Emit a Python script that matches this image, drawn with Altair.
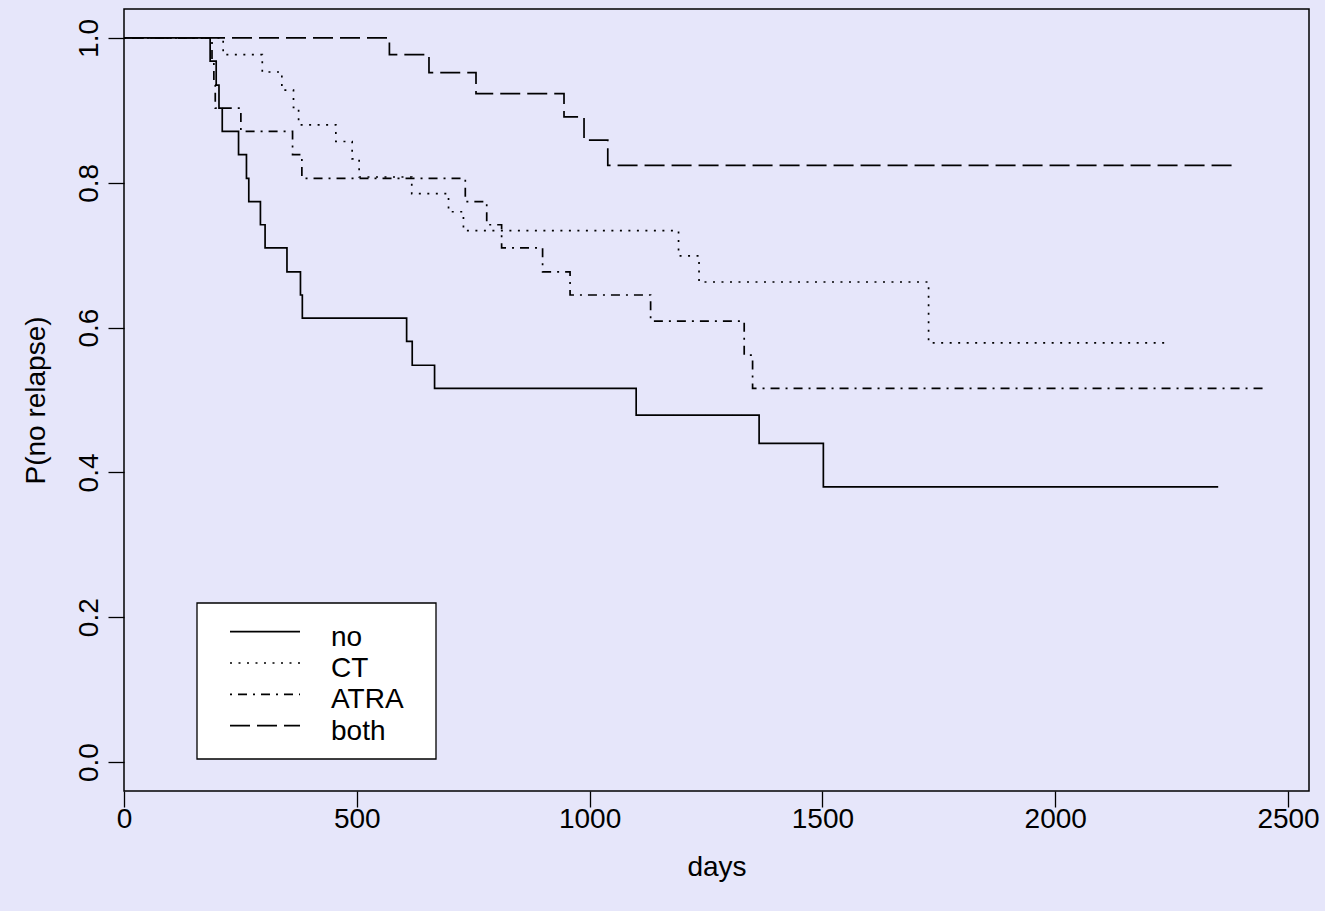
import altair as alt
import pandas as pd

# Kaplan-Meier estimates of relapse-free probability by treatment group
groups = ["no", "CT", "ATRA", "both"]

no_days = [185, 198, 204, 211, 246, 263, 268, 293, 303, 350, 379, 383, 607, 619, 667, 1100, 1364, 1502]
no_surv = [0.968, 0.935, 0.903, 0.871, 0.839, 0.806, 0.774, 0.742, 0.710, 0.677, 0.645, 0.613,
           0.581, 0.548, 0.516, 0.479, 0.440, 0.380]
no_last = 2350

ct_days = [213, 297, 339, 364, 375, 455, 490, 505, 618, 697, 729, 1191, 1235, 1728]
ct_surv = [0.977, 0.953, 0.928, 0.904, 0.880, 0.857, 0.833, 0.808, 0.785, 0.760, 0.734, 0.699,
           0.663, 0.579]
ct_last = 2245

atra_days = [189, 193, 196, 251, 362, 382, 733, 779, 811, 899, 958, 1131, 1332, 1350]
atra_surv = [0.968, 0.935, 0.903, 0.871, 0.839, 0.806, 0.774, 0.742, 0.710, 0.677, 0.645, 0.609,
             0.562, 0.516]
atra_last = 2451

both_days = [570, 655, 756, 945, 988, 1039]
both_surv = [0.977, 0.952, 0.923, 0.891, 0.859, 0.824]
both_last = 2382

x_ticks = [0, 500, 1000, 1500, 2000, 2500]
y_ticks = [0.0, 0.2, 0.4, 0.6, 0.8, 1.0]

# line styles: solid, dotted, dot-dash, long dash
dashes = [[1, 0], [2, 6.5], [2, 6, 9, 6], [20, 7]]

series = [
    ("no", no_days, no_surv, no_last),
    ("CT", ct_days, ct_surv, ct_last),
    ("ATRA", atra_days, atra_surv, atra_last),
    ("both", both_days, both_surv, both_last),
]

rows = []
for order, (g, days, surv, last) in enumerate(series):
    rows.append({"group": g, "order": order, "days": 0, "p": 1.0})
    for d, s in zip(days, surv):
        rows.append({"group": g, "order": order, "days": d, "p": s})
    rows.append({"group": g, "order": order, "days": last, "p": surv[-1]})
curves = pd.DataFrame(rows)

FONT = "Liberation Sans"
BG = "#E6E6FA"
LW = 1.7

x_enc = alt.X(
    "days:Q",
    scale=alt.Scale(domain=[0, 2545], nice=False, zero=False),
    axis=alt.Axis(
        values=x_ticks, format="d", title="days",
        labelBaseline="alphabetic", labelPadding=20,
        titleBaseline="alphabetic", titleY=84,
    ),
)
y_enc = alt.Y(
    "p:Q",
    scale=alt.Scale(domain=[-0.04, 1.04], nice=False, zero=False),
    axis=alt.Axis(
        values=y_ticks, format=".1f", title="P(no relapse)",
        labelAngle=270, labelAlign="center", labelBaseline="alphabetic", labelPadding=11,
        titleAngle=270, titleAlign="center", titleBaseline="alphabetic",
        titleX=-80, titleY=391,
    ),
)

lines = alt.Chart(curves).mark_line(
    interpolate="step-after", color="black", strokeWidth=LW
).encode(
    x=x_enc,
    y=y_enc,
    detail="group:N",
    order="days:Q",
    strokeDash=alt.StrokeDash(
        "group:N", scale=alt.Scale(domain=groups, range=dashes), legend=None
    ),
)

# legend box drawn inside the plot, bottom-left
box = alt.Chart(pd.DataFrame({"k": [0]})).mark_rect(
    fill="white", stroke="black", strokeWidth=1.3
).encode(
    x=alt.value(73), x2=alt.value(312), y=alt.value(594), y2=alt.value(750)
)

legend_layers = [box]
row0, step = 622.7, 31.3
for i, g in enumerate(groups):
    ry = row0 + i * step
    leg_df = pd.DataFrame({"label": [g]})
    legend_layers.append(
        alt.Chart(leg_df).mark_rule(
            color="black", strokeWidth=LW, strokeDash=dashes[i]
        ).encode(x=alt.value(106), x2=alt.value(176), y=alt.value(ry))
    )
    legend_layers.append(
        alt.Chart(leg_df).mark_text(
            align="left", baseline="alphabetic", font=FONT, fontSize=28, color="black"
        ).encode(text="label:N", x=alt.value(207), y=alt.value(ry + 14))
    )

chart = alt.layer(lines, *legend_layers).properties(
    width=1185,
    height=782,
    padding={"left": 124, "top": 9, "right": 16, "bottom": 120},
    autosize=alt.AutoSizeParams(type="none"),
    background=BG,
).configure_view(
    stroke="black", strokeWidth=1.5, fill=BG
).configure_axis(
    grid=False,
    domain=False,
    tickColor="black",
    tickSize=16,
    tickWidth=1.3,
    labelColor="black",
    labelFont=FONT,
    labelFontSize=28,
    titleColor="black",
    titleFont=FONT,
    titleFontSize=28,
    titleFontWeight="normal",
    labelFlush=False,
    labelOverlap=False,
)

chart.save("out.html", embed_options={"renderer": "svg", "actions": False})
